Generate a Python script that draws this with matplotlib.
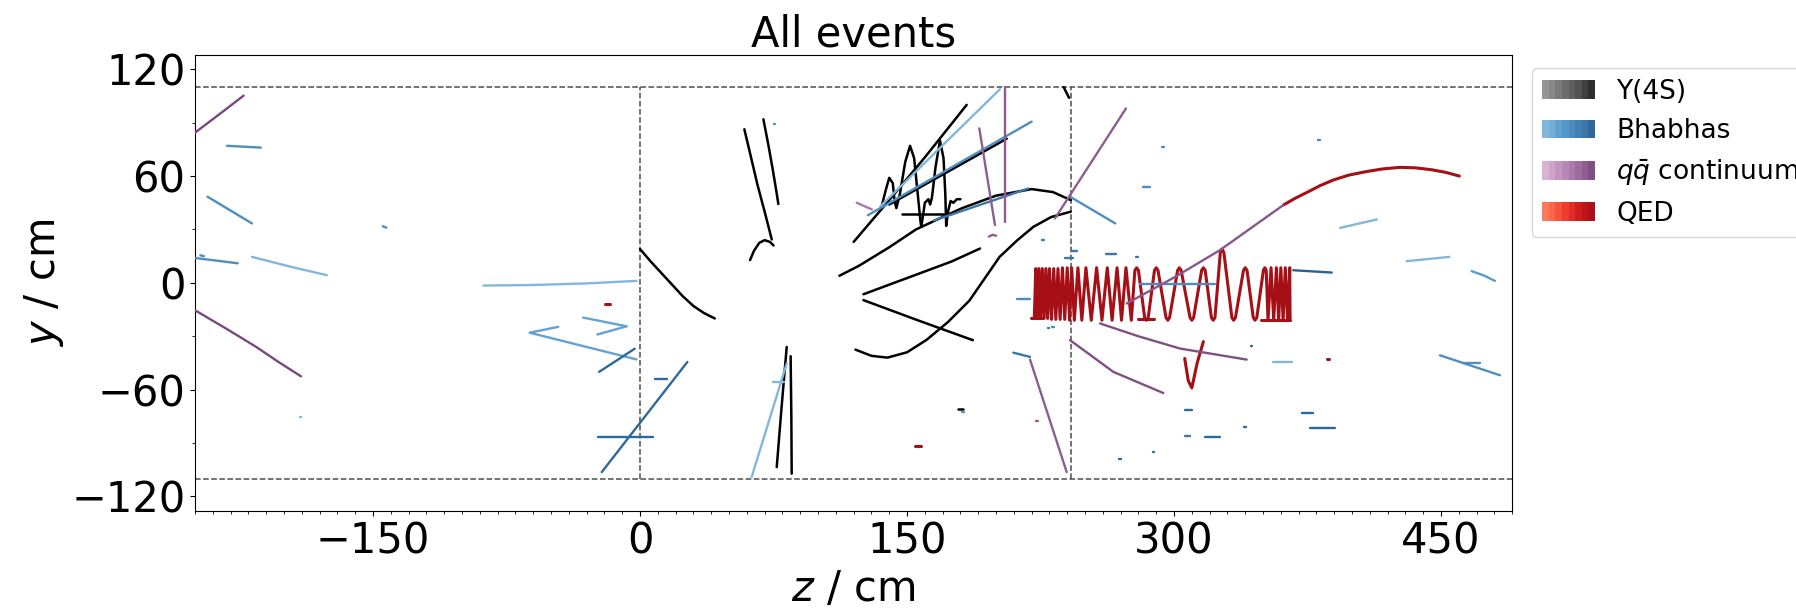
import matplotlib
matplotlib.use("Agg")
import matplotlib.pyplot as plt
import numpy as np
from matplotlib.patches import Patch
from matplotlib.legend_handler import HandlerTuple
from matplotlib.ticker import MultipleLocator
from matplotlib.colors import LinearSegmentedColormap

# ---- track data (z, y) in cm ----
y4s_tracks = [
    [(0, 19), (6, 12), (12, 5.5), (18, -1), (24, -7.5), (30, -13), (36, -17), (42, -20)],
    [(58.6, 86.3), (62, 72), (66, 55), (70, 40), (74, 24.4)],
    [(61.8, 12.8), (64, 18), (67, 22.5), (70, 24), (73, 23), (75, 21)],
    [(69.3, 91.9), (72, 78), (74.5, 64), (76.5, 52), (77.7, 44.3)],
    [(120, 23), (140, 46.5), (160, 70.5), (183.5, 100)],
    [(112, 4), (123, 9.6), (140, 20), (155, 30), (170, 37), (181, 42), (200, 49),
     (220, 52.7), (232, 51), (242, 46.5)],
    [(136, 44), (138, 52), (140, 59), (142, 56), (143, 46), (144, 42), (146, 50), (149, 68),
     (151.7, 77), (154, 70), (156, 50), (157.5, 35), (158, 31.5), (159, 38), (160, 45),
     (162, 47), (163, 44), (164, 48), (166, 65), (168.5, 80), (170.5, 70), (171.5, 50),
     (172, 32), (173, 40), (174.5, 46), (176, 45), (178, 47), (180, 47)],
    [(147, 38.7), (174, 38.7)],
    [(125.5, -6.4), (140, -1), (157, 5.3), (175, 12), (191, 19.3)],
    [(125.5, -9.7), (156, -21), (187, -32.2)],
    [(121, -37.5), (130, -41), (139, -42), (150, -39), (161, -32), (173, -22), (185, -10),
     (202, 14.6), (212, 24), (221, 31.5), (231, 37), (242, 40)],
    [(140, 44), (206, 81)],
    [(76.8, -103.5), (79.5, -70), (82.4, -36)],
    [(85.2, -107.2), (85, -75), (84.6, -41.2)],
    [(178.8, -70.6), (181.6, -70.6)],
    [(238, 110), (240, 106), (241, 104)],
]

bhabha_tracks = [
    [(-232, 77), (-213, 76)],
    [(-243, 48.4), (-218, 33.4)],
    [(-144.5, 31.8), (-142.5, 31)],
    [(-250, 14), (-226, 11)],
    [(-247, 15.5), (-245, 15)],
    [(-218, 14.6), (-196, 9), (-176, 4.3)],
    [(-88, -1.5), (-60, -1.2), (-30, -0.3), (-2, 1.1)],
    [(-46, -24.7), (-62, -28), (-2, -43)],
    [(-32, -19.5), (-7.5, -24.4), (-24, -29)],
    [(-23, -50), (-3, -37)],
    [(-21.5, -106.3), (26.6, -44.4)],
    [(8.3, -53.8), (14.9, -53.8)],
    [(-23.7, -86.6), (7.5, -86.6)],
    [(62.7, -109.1), (82.4, -45.3)],
    [(74.6, -55.9), (81.1, -55.9)],
    [(75, 89.3), (75.8, 89.3)],
    [(135, 43), (202.2, 108.8)],
    [(128, 38), (220, 90.6)],
    [(165, 35), (218, 53)],
    [(241.6, 48.4), (267, 33.4)],
    [(226, 24), (227, 24)],
    [(242.6, 18), (245.5, 18)],
    [(238.7, 13.7), (243.4, 13.7)],
    [(262, 16.5), (267.6, 16.5)],
    [(278.5, 14.3), (279.5, 14.3)],
    [(211.6, -8.8), (219.1, -8.8)],
    [(231.5, -24.7), (232.5, -24.7)],
    [(293.5, 76.5), (294.5, 76.5)],
    [(381, 80.3), (382, 80.3)],
    [(282.8, 53.6), (286.5, 53.6)],
    [(393.3, 30.9), (413.9, 35.6)],
    [(430.7, 12.2), (454.7, 14.6)],
    [(467.2, 6.6), (474, 4.2), (480.3, 1.1)],
    [(367, 7.1), (388.6, 5.8)],
    [(280.9, -0.9), (323, -0.9)],
    [(209.7, -39.2), (219.1, -41.6)],
    [(229, -25.1), (230, -25.1)],
    [(343, -35.4), (344, -35.4)],
    [(355.8, -44.4), (366.1, -44.4)],
    [(449.4, -40.7), (483.1, -51.9)],
    [(462.5, -44.8), (471.9, -44.8)],
    [(306.2, -71.6), (309.9, -71.6)],
    [(371.7, -72.9), (378.3, -72.9)],
    [(376.4, -81.3), (390.4, -81.3)],
    [(339.4, -81.2), (340.4, -81.2)],
    [(306.2, -86), (309, -86)],
    [(317.4, -86.6), (325.8, -86.6)],
    [(288, -95.2), (289, -95.2)],
    [(269.2, -99.2), (270.2, -99.2)],
    [(-191.3, -75.4), (-190.3, -75.4)],
    [(181, -72.5), (182, -72.5)],
]
bhabha_shades = [0.6, 0.6, 0.6, 0.6, 0.6, 0.3, 0.3, 0.45, 0.45, 0.85, 0.85, 0.85, 0.85,
                 0.3, 0.3, 0.6, 0.3, 0.6, 0.75, 0.6, 0.75, 0.75, 0.75, 0.75, 0.75, 0.6,
                 0.6, 0.6, 0.6, 0.6, 0.3, 0.3, 0.5, 0.9, 0.6, 0.75, 0.75, 0.85, 0.3, 0.6,
                 0.6, 0.85, 0.85, 0.85, 0.85, 0.75, 0.85, 0.85, 0.85, 0.3, 0.6]

qq_tracks = [
    [(-260, 77), (-250, 84.4), (-236, 95), (-222.7, 105.2)],
    [(-250, -15.4), (-232, -26), (-215.6, -36), (-203, -44.5), (-190.5, -52.5)],
    [(121.7, 45), (130.2, 41.3)],
    [(205, 110), (205, 34.3)],
    [(190.6, 86.8), (199.4, 32.5)],
    [(196, 26), (198, 27), (200, 26.5)],
    [(233.1, 36.2), (273, 98)],
    [(219.1, -43.1), (239.7, -106.3)],
    [(222.5, -77.6), (223.5, -77.6)],
    [(241.6, -32.2), (265.9, -50), (294, -61.9)],
    [(258.4, -22.8), (280, -30), (303.4, -36.9), (340.8, -43.1)],
    [(273.4, -11.6), (300, 3), (325.8, 18.4), (361.4, 43.7)],
]
qq_shades = [0.9, 0.9, 0.55, 0.75, 0.75, 0.75, 0.75, 0.75, 0.75, 0.85, 0.85, 0.8]

qed_tracks = [
    [(361.4, 43.7), (368, 47.5), (375, 51), (382, 54.6), (389.5, 57.8), (398, 60.5),
     (408, 62.5), (417, 64), (427, 64.9), (436, 64.6), (445, 63.5), (453, 62), (460.3, 60)],
    [(221.5, -20), (222.3, 8), (223.2, -20), (224.1, 8), (225, -20), (226, 8), (227, -20),
     (228, 8), (229, -20), (230, 8), (231.2, -20.5), (232.4, 8), (233.6, -20.5), (234.8, 8),
     (236, -20.5), (237.3, 8.5), (238.6, -20.5), (240, 8.5), (241.3, -21), (242.5, 8.5),
     (244, -21), (246, 8.5), (248.2, -21), (250.5, 8.5), (253.5, -21), (256.5, 8.5),
     (259.5, -21), (262.5, 8.5), (265.2, -21), (268, 8.5), (270.5, -21), (273, 8.5),
     (276, -21), (278, 7), (279, 8.5), (280, 7), (283.5, -19.5), (284.5, -21), (285.5, -19.5),
     (289, 7), (290, 8.5), (291, 7), (295.5, -19.5), (296.5, -21), (297.5, -19.5),
     (302, 7), (303, 8.5), (304, 7), (309, -19.5), (310, -21), (311, -19.5),
     (315.5, 7), (316.5, 8.5), (317.5, 7), (321, -19.5), (322, -21), (323, -19.5),
     (326, 17), (327, 19), (328, 17), (332.5, -19.5), (333.5, -21), (334.5, -19.5),
     (339, 7), (340, 8.5), (341, 7), (344.5, -19.5), (345.5, -21), (346.5, -19.5),
     (350.2, 7), (351, 8.5), (351.8, 7), (352.8, -21), (354.5, 8.5), (356, -21),
     (357.5, 8.5), (358.8, -21), (360, 8.5), (361.3, -21), (362.5, 8.5), (363.8, -21),
     (365, 8.5), (365.2, -21)],
    [(219.5, -19.5), (226, -19.5)],
    [(280, -20.5), (289, -20.5)],
    [(349, -21), (365, -21)],
    [(316.5, -33), (313, -45), (310, -59), (308, -55), (306, -42.5)],
    [(-19.7, -12), (-16.9, -12)],
    [(154.5, -91.8), (157.7, -91.8)],
    [(386.2, -42.9), (387.2, -42.9)],
]

legend_labels = ["Y(4S)", "Bhabhas", r"$q\bar{q}$ continuum", "QED"]

# detector outline
r_outer = 110
z_bounds = [0, 242]

# ---- colours ----
purples = LinearSegmentedColormap.from_list("pp", ["#e6c2df", "#b07fb0", "#6c3b70"])
blues = LinearSegmentedColormap.from_list("bb", ["#c0dcf0", "#5a9ccc", "#1d5488"])
reds = plt.cm.Reds
greys = plt.cm.Greys

fig = plt.figure(figsize=(17.96, 6.08), dpi=100)
ax = fig.add_axes([0.1086, 0.160, 0.7334, 0.7495])

ax.axhline(r_outer, color="0.3", ls="--", lw=1.1, zorder=1)
ax.axhline(-r_outer, color="0.3", ls="--", lw=1.1, zorder=1)
for zb in z_bounds:
    ax.plot([zb, zb], [-r_outer, r_outer], color="0.3", ls="--", lw=1.1, zorder=1)

for trk in y4s_tracks:
    t = np.array(trk)
    ax.plot(t[:, 0], t[:, 1], color="black", lw=1.8, solid_capstyle="round", zorder=3)
for trk, s in zip(bhabha_tracks, bhabha_shades):
    t = np.array(trk)
    ax.plot(t[:, 0], t[:, 1], color=blues(s), lw=1.7, solid_capstyle="round", zorder=3)
for trk, s in zip(qq_tracks, qq_shades):
    t = np.array(trk)
    ax.plot(t[:, 0], t[:, 1], color=purples(s), lw=1.7, solid_capstyle="round", zorder=3)
for trk in qed_tracks:
    t = np.array(trk)
    ax.plot(t[:, 0], t[:, 1], color="#a50f15", lw=2.2, solid_capstyle="round", zorder=2.5)

ax.set_xlim(-250, 490)
ax.set_ylim(-128, 128)
ax.set_aspect("equal")
ax.xaxis.set_major_locator(MultipleLocator(150))
ax.xaxis.set_minor_locator(MultipleLocator(10))
ax.yaxis.set_major_locator(MultipleLocator(60))
ax.yaxis.set_minor_locator(MultipleLocator(30))
ax.tick_params(labelsize=30)
ax.set_xlabel("$z$ / cm", fontsize=30)
ax.set_ylabel("$y$ / cm", fontsize=30)
ax.set_title("All events", fontsize=30)

# legend with colour-strip handles
n = 8
handles = [
    tuple(Patch(facecolor=c, edgecolor="none") for c in greys(np.linspace(0.5, 0.85, n))),
    tuple(Patch(facecolor=c, edgecolor="none") for c in blues(np.linspace(0.3, 0.85, n))),
    tuple(Patch(facecolor=c, edgecolor="none") for c in purples(np.linspace(0.12, 0.85, n))),
    tuple(Patch(facecolor=c, edgecolor="none") for c in reds(np.linspace(0.45, 0.85, n))),
]
ax.legend(handles, legend_labels, handler_map={tuple: HandlerTuple(ndivide=None, pad=0)},
          loc="upper left", bbox_to_anchor=(1.0147, 0.971), borderaxespad=0, fontsize=19)

fig.savefig("out.png", dpi=100)
